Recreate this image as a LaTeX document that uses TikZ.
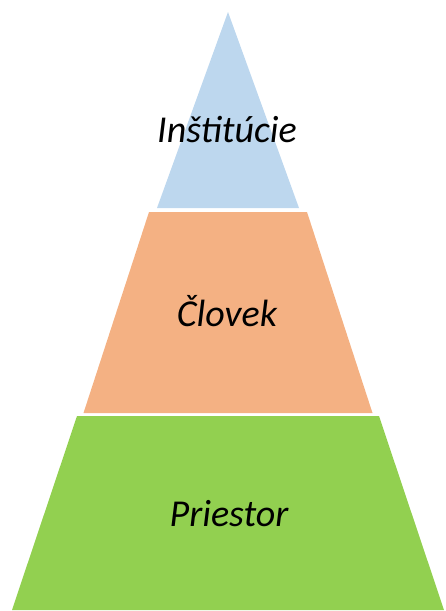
\documentclass[tikz,border=0pt]{standalone}
\usepackage{fontspec}
\setmainfont{Carlito}
\usepackage{tikz}
\usetikzlibrary{positioning}
\tikzstyle{pyramid} = [x = 1pt, y = -1pt]
\definecolor{topColor}{RGB}{189,215,238}
\definecolor{middleColor}{RGB}{244,177,131}
\definecolor{baseColor}{RGB}{146,208,80}
\tikzstyle{layerStyle} = [draw=none]
\tikzstyle{layerText} = [font=\fontsize{38}{42}\selectfont\itshape, inner sep=0pt]
\newcommand{\centerX}{228}
% top y, bottom y, top half width, bottom half width, colour
\newcommand{\pyramidLayer}[5]{\fill [layerStyle, #5] (\centerX - #3, #1) -- (\centerX + #3, #1) -- (\centerX + #4, #2) -- (\centerX - #4, #2) -- cycle;}

\begin{document}
\begin{tikzpicture}[pyramid]
  \useasboundingbox (0,0) rectangle (445,611);

  \pyramidLayer{12}{208}{0}{71}{topColor}
  \pyramidLayer{212}{413}{79}{144.5}{middleColor}
  \pyramidLayer{416}{610}{151}{216}{baseColor}

  \node [layerText] (institucie) at (227,130) {Inštitúcie};
  \node [layerText] (clovek) at (227,311) {Človek};
  \node [layerText] (priestor) at (229,514) {Priestor};
\end{tikzpicture}
\end{document}
